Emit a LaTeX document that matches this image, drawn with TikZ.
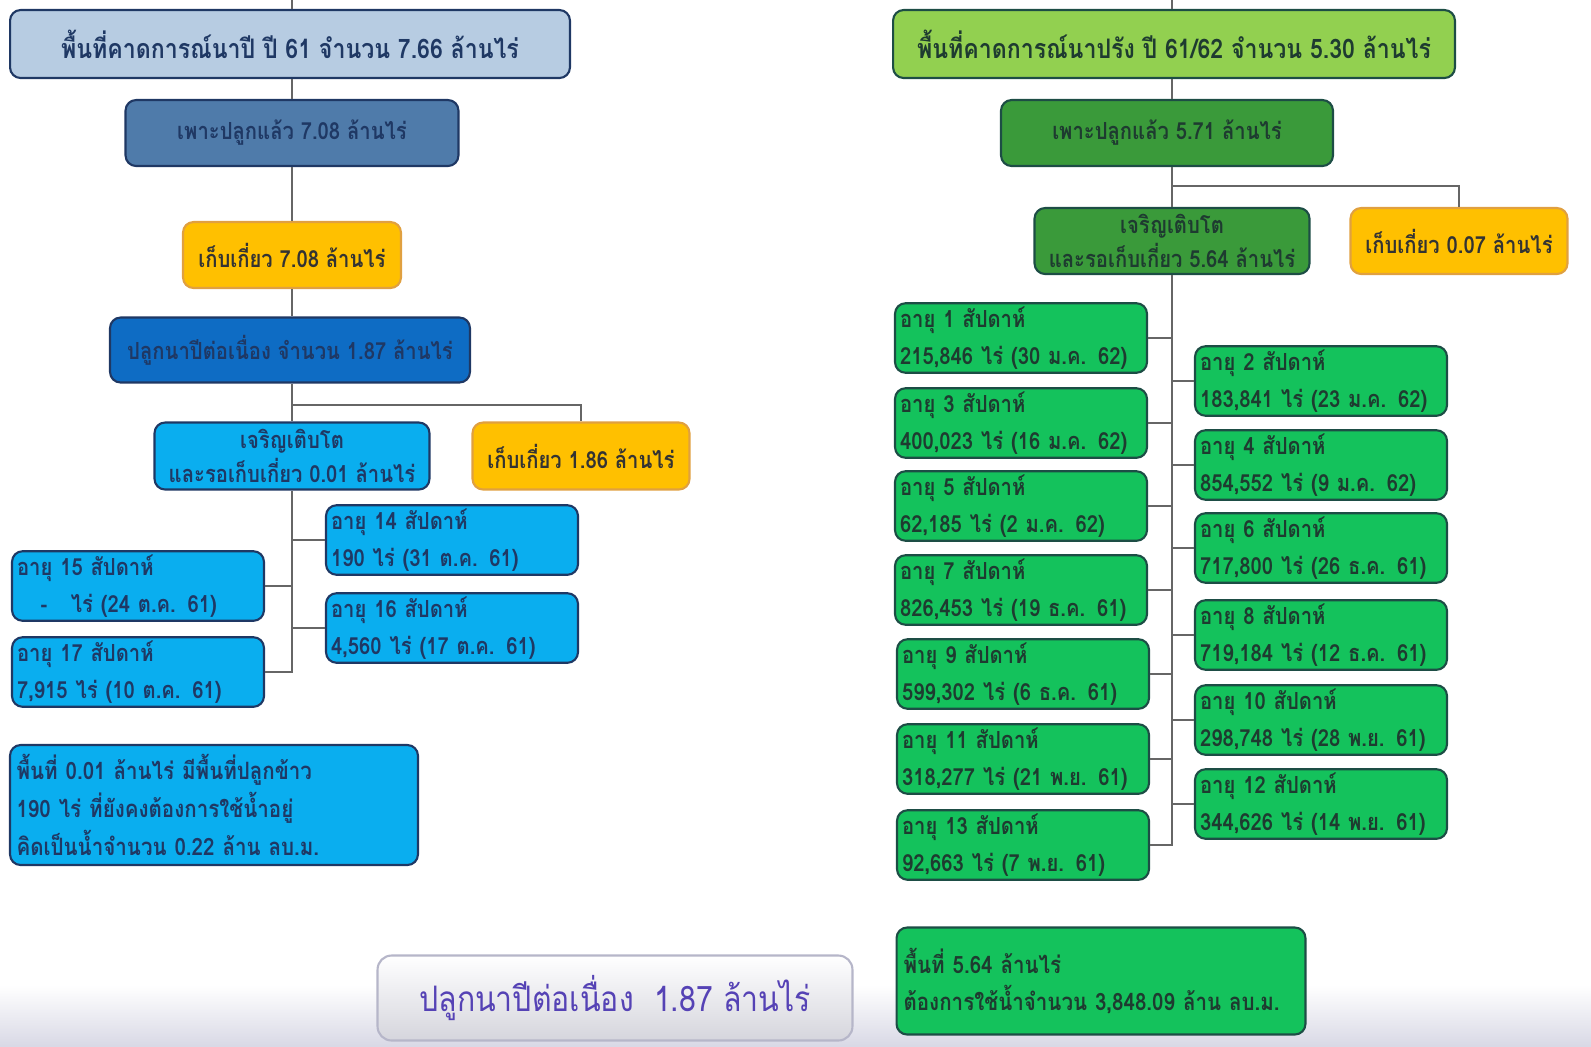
\documentclass[tikz,border=0pt]{standalone}
\usepackage{fontspec}
\newfontfamily\thai[Script=Thai, FakeStretch=0.86]{Loma}
\newfontfamily\thaiplain[Script=Thai, FakeStretch=0.86]{Loma}
\definecolor{navy}{HTML}{1F3864}
\definecolor{paleblue}{HTML}{B7CCE2}
\definecolor{steel}{HTML}{4F7BAA}
\definecolor{deepblue}{HTML}{0E6CC4}
\definecolor{skyblue}{HTML}{0AAEEF}
\definecolor{gold}{HTML}{FFC000}
\definecolor{goldline}{HTML}{E0A040}
\definecolor{lightgreen}{HTML}{92D050}
\definecolor{midgreen}{HTML}{3A9A3A}
\definecolor{weekgreen}{HTML}{14C25C}
\definecolor{greenline}{HTML}{1D4D45}
\definecolor{greenink}{HTML}{1E3B30}
\definecolor{linkgray}{HTML}{666666}
\definecolor{purpleink}{HTML}{5542B5}
\tikzset{
  box/.style={draw, rounded corners=6pt, line width=1.2pt, align=center, inner sep=2pt,
    font=\thai\bfseries\fontsize{13.4}{19}\selectfont},
  bigtext/.style={font=\thai\bfseries\fontsize{15.3}{19}\selectfont},
  leftbox/.style={box, draw=navy, text=navy},
  yellowbox/.style={box, fill=gold, draw=goldline, text=black!80},
  greenbox/.style={box, draw=greenline, text=greenink},
  weekbox/.style={box, align=left, minimum width=5.04cm, minimum height=1.3cm,
    text width=4.84cm, font=\thai\bfseries\fontsize{13.4}{21}\selectfont},
  lweek/.style={weekbox, fill=skyblue, draw=navy, text=navy},
  rweek/.style={weekbox, fill=weekgreen, draw=greenline, text=greenink},
  link/.style={draw=linkgray, line width=1.2pt}
}
\begin{document}
\begin{tikzpicture}[x=0.02cm, y=-0.02cm]
  \useasboundingbox (0,0) rectangle (1591,1046);
  % bottom band
  \shade[top color=white, bottom color=blue!20!gray!25] (0,985) rectangle (1591,1046);

  % Left column: nap i
  \coordinate (ltop) at (292,0);
  \node[leftbox, bigtext, fill=paleblue, minimum width=11.2cm, minimum height=1.36cm] (l1) at (290,44)
    {พื้นที่คาดการณ์นาปี ปี 61 จำนวน 7.66 ล้านไร่};
  \node[leftbox, fill=steel, minimum width=6.66cm, minimum height=1.32cm] (l2) at (292,133)
    {เพาะปลูกแล้ว 7.08 ล้านไร่};
  \node[yellowbox, minimum width=4.36cm, minimum height=1.32cm] (l3) at (292,255)
    {เก็บเกี่ยว 7.08 ล้านไร่};
  \node[leftbox, fill=deepblue, minimum width=7.2cm, minimum height=1.3cm] (l4) at (290,350)
    {ปลูกนาปีต่อเนื่อง จำนวน 1.87 ล้านไร่};
  \node[leftbox, fill=skyblue, minimum width=5.5cm, minimum height=1.34cm] (l5) at (292,456)
    {เจริญเติบโต\\และรอเก็บเกี่ยว 0.01 ล้านไร่};
  \node[yellowbox, minimum width=4.34cm, minimum height=1.34cm] (l6) at (581,456)
    {เก็บเกี่ยว 1.86 ล้านไร่};
  \coordinate (lb) at (292,405);

  \node[lweek] (w14) at (452,540) {อายุ 14 สัปดาห์\\190 ไร่ (31 ต.ค. 61)};
  \node[lweek] (w15) at (138,586) {อายุ 15 สัปดาห์\\\quad-\quad ไร่ (24 ต.ค. 61)};
  \node[lweek] (w16) at (452,628) {อายุ 16 สัปดาห์\\4,560 ไร่ (17 ต.ค. 61)};
  \node[lweek] (w17) at (138,672) {อายุ 17 สัปดาห์\\7,915 ไร่ (10 ต.ค. 61)};

  \node[leftbox, fill=skyblue, align=left, minimum width=8.16cm, minimum height=2.4cm,
    text width=7.9cm, font=\thai\bfseries\fontsize{13.6}{21.5}\selectfont] (lsum) at (214,805)
    {พื้นที่ 0.01 ล้านไร่ มีพื้นที่ปลูกข้าว\\190 ไร่ ที่ยังคงต้องการใช้น้ำอยู่\\คิดเป็นน้ำจำนวน 0.22 ล้าน ลบ.ม.};

  \node[draw=blue!15!gray!50, line width=1.2pt, rounded corners=8pt, top color=white,
    bottom color=blue!10!gray!30, text=purpleink, minimum width=9.5cm, minimum height=1.7cm,
    font=\thaiplain\fontsize{20}{24}\selectfont] (btn) at (615,998)
    {ปลูกนาปีต่อเนื่อง\ \ 1.87 ล้านไร่};

  % Left connectors
  \draw[link] (ltop) -- (l1.north -| ltop);
  \draw[link] (l1.south -| ltop) -- (l2.north -| ltop);
  \draw[link] (l2.south) -- (l3.north);
  \draw[link] (l3.south) -- (l4.north -| l3.south);
  \draw[link] (l4.south -| l5.north) -- (l5.north);
  \draw[link] (lb) -| (l6.north);
  \draw[link] (l5.south) |- (w14.west) (l5.south) |- (w15.east)
    (l5.south) |- (w16.west) (l5.south) |- (w17.east);

  % Right column: nap rang
  \coordinate (rtop) at (1172,0);
  \node[greenbox, bigtext, fill=lightgreen, minimum width=11.24cm, minimum height=1.36cm] (r1) at (1174,44)
    {พื้นที่คาดการณ์นาปรัง ปี 61/62 จำนวน 5.30 ล้านไร่};
  \node[greenbox, fill=midgreen, minimum width=6.64cm, minimum height=1.32cm] (r2) at (1167,133)
    {เพาะปลูกแล้ว 5.71 ล้านไร่};
  \node[greenbox, fill=midgreen, minimum width=5.5cm, minimum height=1.32cm] (r3) at (1172,241)
    {เจริญเติบโต\\และรอเก็บเกี่ยว 5.64 ล้านไร่};
  \node[yellowbox, minimum width=4.34cm, minimum height=1.32cm] (r4) at (1459,241)
    {เก็บเกี่ยว 0.07 ล้านไร่};
  \coordinate (rb) at (1172,186);

  \node[rweek] (r01) at (1021,338) {อายุ 1 สัปดาห์\\215,846 ไร่ (30 ม.ค. 62)};
  \node[rweek] (r03) at (1021,423) {อายุ 3 สัปดาห์\\400,023 ไร่ (16 ม.ค. 62)};
  \node[rweek] (r05) at (1021,506) {อายุ 5 สัปดาห์\\62,185 ไร่ (2 ม.ค. 62)};
  \node[rweek] (r07) at (1021,590) {อายุ 7 สัปดาห์\\826,453 ไร่ (19 ธ.ค. 61)};
  \node[rweek] (r09) at (1023,674) {อายุ 9 สัปดาห์\\599,302 ไร่ (6 ธ.ค. 61)};
  \node[rweek] (r11) at (1023,759) {อายุ 11 สัปดาห์\\318,277 ไร่ (21 พ.ย. 61)};
  \node[rweek] (r13) at (1023,845) {อายุ 13 สัปดาห์\\92,663 ไร่ (7 พ.ย. 61)};

  \node[rweek] (r02) at (1321,381) {อายุ 2 สัปดาห์\\183,841 ไร่ (23 ม.ค. 62)};
  \node[rweek] (r04) at (1321,465) {อายุ 4 สัปดาห์\\854,552 ไร่ (9 ม.ค. 62)};
  \node[rweek] (r06) at (1321,548) {อายุ 6 สัปดาห์\\717,800 ไร่ (26 ธ.ค. 61)};
  \node[rweek] (r08) at (1321,635) {อายุ 8 สัปดาห์\\719,184 ไร่ (12 ธ.ค. 61)};
  \node[rweek] (r10) at (1321,720) {อายุ 10 สัปดาห์\\298,748 ไร่ (28 พ.ย. 61)};
  \node[rweek] (r12) at (1321,804) {อายุ 12 สัปดาห์\\344,626 ไร่ (14 พ.ย. 61)};

  \node[greenbox, fill=weekgreen, align=left, minimum width=8.18cm, minimum height=2.14cm,
    text width=7.9cm, font=\thai\bfseries\fontsize{13.6}{21.5}\selectfont] (rsum) at (1101,981)
    {พื้นที่ 5.64 ล้านไร่\\ต้องการใช้น้ำจำนวน 3,848.09 ล้าน ลบ.ม.};

  % Right connectors
  \draw[link] (rtop) -- (r1.north -| rtop);
  \draw[link] (r1.south -| rtop) -- (r2.north -| rtop);
  \draw[link] (r2.south -| r3.north) -- (r3.north);
  \draw[link] (rb) -| (r4.north);
  \draw[link] (r3.south) |- (r01.east) (r3.south) |- (r03.east) (r3.south) |- (r05.east)
    (r3.south) |- (r07.east) (r3.south) |- (r09.east) (r3.south) |- (r11.east)
    (r3.south) |- (r13.east);
  \draw[link] (r3.south) |- (r02.west) (r3.south) |- (r04.west) (r3.south) |- (r06.west)
    (r3.south) |- (r08.west) (r3.south) |- (r10.west) (r3.south) |- (r12.west);
\end{tikzpicture}
\end{document}
